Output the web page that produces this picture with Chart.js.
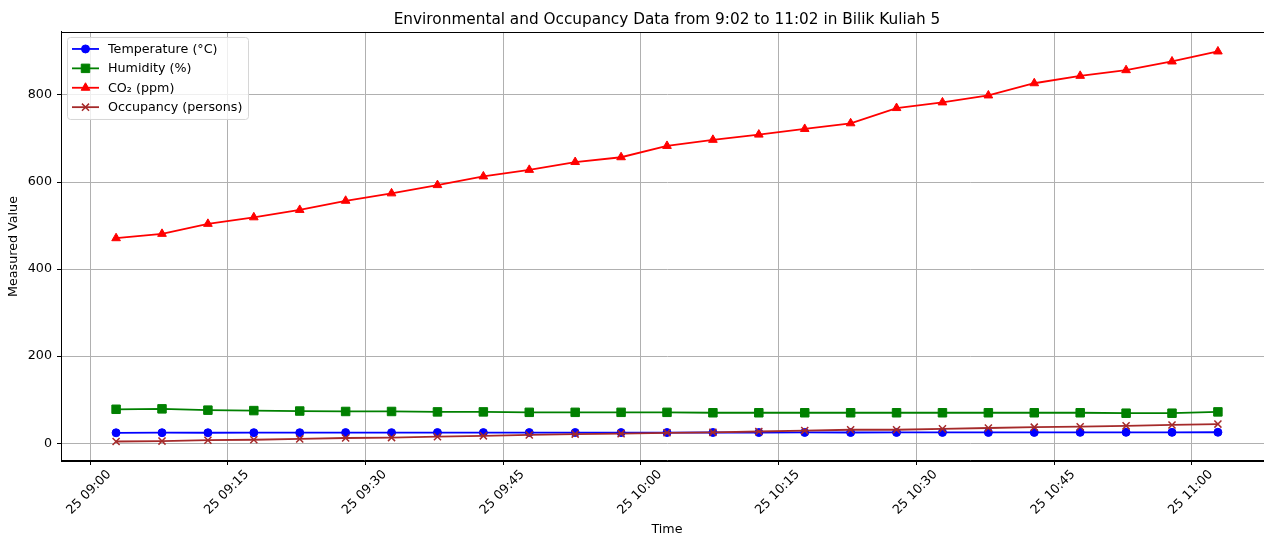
<!DOCTYPE html>
<html>
<head>
<meta charset="utf-8">
<title>Bilik Kuliah 5</title>
<script src="https://cdn.jsdelivr.net/npm/chart.js@4.4.1/dist/chart.umd.min.js"></script>
<style>
  html, body { margin: 0; background: #fff; overflow: hidden; }
  canvas { display: block; }
</style>
</head>
<body>
<!-- a little wider than the window: the reference plot box runs past its right edge -->
<canvas id="myChart" width="1273" height="537"></canvas>
<script>
const times = [
  "09:02:50", "09:07:50", "09:12:50", "09:17:50", "09:22:50",
  "09:27:50", "09:32:50", "09:37:50", "09:42:50", "09:47:50",
  "09:52:50", "09:57:50", "10:02:50", "10:07:50", "10:12:50",
  "10:17:50", "10:22:50", "10:27:50", "10:32:50", "10:37:50",
  "10:42:50", "10:47:50", "10:52:50", "10:57:50", "11:02:50",
];
const temperature = [24.0, 24.2, 24.1, 24.3, 24.2, 24.4, 24.3, 24.5, 24.4, 24.5, 24.6, 24.5, 24.6,
  24.7, 24.6, 24.8, 24.7, 24.8, 24.9, 24.8, 24.9, 25.0, 25.1, 25.0, 25.2];
const humidity = [78, 79, 76, 75, 74, 73, 73, 72, 72, 71, 71, 71, 71, 70, 70, 70, 70, 70, 70, 70,
  70, 70, 69, 69, 72];
const co2 = [471, 481, 504, 519, 536, 557, 574, 593, 613, 628, 646, 657, 683, 697, 709, 722, 735,
  770, 783, 799, 827, 844, 857, 877, 900];
const occupancy = [4, 5, 7, 8, 10, 12, 13, 15, 17, 19, 21, 22, 24, 25, 27, 29, 31, 31, 33, 35, 37,
  38, 40, 42, 44];
const xTicks = [0, 15, 30, 45, 60, 75, 90, 105, 120];
const yTicks = [0, 200, 400, 600, 800];

// minutes after 09:00
function toMinutes(t) {
  const p = t.split(":").map(Number);
  return (p[0] - 9) * 60 + p[1] + (p[2] || 0) / 60;
}
function pad(n) { return String(n).padStart(2, "0"); }

const xs = times.map(toMinutes);
function points(vals) { return vals.map((v, i) => ({ x: xs[i], y: v })); }

const xSpan = xs[xs.length - 1] - xs[0];
const allY = [].concat(temperature, humidity, co2, occupancy);
const yLo = Math.min(...allY), yHi = Math.max(...allY);
const ySpan = yHi - yLo;

const FONT = "'DejaVu Sans', sans-serif";
const SMALL = 12.7;

const frame = {
  id: "frame",
  afterDatasetsDraw(chart) {
    const { ctx, chartArea: a } = chart;
    ctx.save();
    ctx.strokeStyle = "#000";
    ctx.lineWidth = 1;
    ctx.strokeRect(Math.round(a.left) + 0.5, Math.round(a.top) + 0.5,
      Math.round(a.right - a.left) - 1, Math.round(a.bottom - a.top));
    ctx.restore();
  },
};

const innerLegend = {
  id: "innerLegend",
  afterDraw(chart) {
    const ctx = chart.ctx;
    const a = chart.chartArea;
    const x0 = a.left + 6, y0 = a.top + 5, w = 181, h = 82;
    ctx.save();
    ctx.beginPath();
    ctx.roundRect(x0 + 0.5, y0 + 0.5, w, h, 3);
    ctx.fillStyle = "rgba(255,255,255,0.8)";
    ctx.fill();
    ctx.strokeStyle = "#d6d6d6";
    ctx.lineWidth = 1;
    ctx.stroke();
    ctx.font = SMALL + "px " + FONT;
    ctx.textBaseline = "middle";
    chart.data.datasets.forEach((ds, i) => {
      const y = y0 + 12 + i * 19.4;
      ctx.strokeStyle = ds.borderColor;
      ctx.fillStyle = ds.borderColor;
      ctx.lineWidth = ds.borderWidth;
      ctx.beginPath();
      ctx.moveTo(x0 + 5, y);
      ctx.lineTo(x0 + 32, y);
      ctx.stroke();
      ctx.lineWidth = ds.pointBorderWidth;
      Chart.helpers.drawPoint(ctx, {
        pointStyle: ds.pointStyle, radius: ds.pointRadius, rotation: 0,
        borderWidth: ds.pointBorderWidth,
      }, x0 + 18.5, y);
      ctx.fillStyle = "#000";
      ctx.fillText(ds.label, x0 + 41, y + 0.5);
    });
    ctx.restore();
  },
};

const ctx = document.getElementById("myChart");

new Chart(ctx, {
  type: "line",
  data: {
    datasets: [
      {
        label: "Temperature (°C)",
        data: points(temperature),
        borderColor: "#0000ff",
        backgroundColor: "#0000ff",
        pointStyle: "circle",
        pointRadius: 4,
        pointBorderWidth: 1,
        borderWidth: 1.8,
        order: 3,
      },
      {
        label: "Humidity (%)",
        data: points(humidity),
        borderColor: "#008000",
        backgroundColor: "#008000",
        pointStyle: "rect",
        pointRadius: 6,
        pointBorderWidth: 1,
        borderWidth: 1.8,
        order: 2,
      },
      {
        label: "CO₂ (ppm)",
        data: points(co2),
        borderColor: "#ff0000",
        backgroundColor: "#ff0000",
        pointStyle: "triangle",
        pointRadius: 5,
        pointBorderWidth: 1,
        borderWidth: 1.8,
        order: 1,
      },
      {
        label: "Occupancy (persons)",
        data: points(occupancy),
        borderColor: "#a52a2a",
        backgroundColor: "#a52a2a",
        pointStyle: "crossRot",
        pointRadius: 5,
        pointBorderWidth: 1.5,
        borderWidth: 1.8,
        order: 0,
      },
    ],
  },
  options: {
    responsive: false,
    animation: false,
    layout: { autoPadding: false, padding: 0 },
    elements: { line: { tension: 0 } },
    plugins: {
      legend: { display: false },
      tooltip: { enabled: false },
      title: {
        display: true,
        fullSize: false,
        text: "Environmental and Occupancy Data from 9:02 to 11:02 in Bilik Kuliah 5",
        color: "#000",
        font: { family: FONT, size: 15.3, weight: "normal" },
        padding: { top: 10.5, bottom: 3.1 },
      },
    },
    scales: {
      x: {
        type: "linear",
        min: xs[0] - 0.05 * xSpan,
        max: xs[xs.length - 1] + 0.05 * xSpan,
        afterBuildTicks(scale) { scale.ticks = xTicks.map((v) => ({ value: v })); },
        afterFit(scale) {
          scale.height = 76;
          scale.paddingLeft = 0;
          scale.paddingRight = 0;
        },
        grid: { color: "#b0b0b0", lineWidth: 1, tickColor: "#000", tickLength: 4 },
        border: { color: "#000", width: 1 },
        ticks: {
          autoSkip: false,
          minRotation: 45,
          maxRotation: 45,
          labelOffset: 19,
          padding: 2,
          color: "#000",
          font: { family: FONT, size: SMALL },
          callback: (v) => "25 " + pad(9 + Math.floor(v / 60)) + ":" + pad(v % 60),
        },
        title: {
          display: true,
          text: "Time",
          color: "#000",
          font: { family: FONT, size: SMALL },
          padding: { top: 0, bottom: 0 },
        },
      },
      y: {
        min: yLo - 0.05 * ySpan,
        max: yHi + 0.05 * ySpan,
        afterBuildTicks(scale) { scale.ticks = yTicks.map((v) => ({ value: v })); },
        afterFit(scale) {
          scale.width = 61;
          scale.paddingTop = 0;
          scale.paddingBottom = 0;
        },
        grid: { color: "#b0b0b0", lineWidth: 1, tickColor: "#000", tickLength: 4 },
        border: { color: "#000", width: 1 },
        ticks: {
          padding: 5,
          color: "#000",
          font: { family: FONT, size: SMALL },
        },
        title: {
          display: true,
          text: "Measured Value",
          color: "#000",
          font: { family: FONT, size: SMALL },
          padding: { top: 6, bottom: 0 },
        },
      },
    },
  },
  plugins: [frame, innerLegend],
});
</script>
</body>
</html>
